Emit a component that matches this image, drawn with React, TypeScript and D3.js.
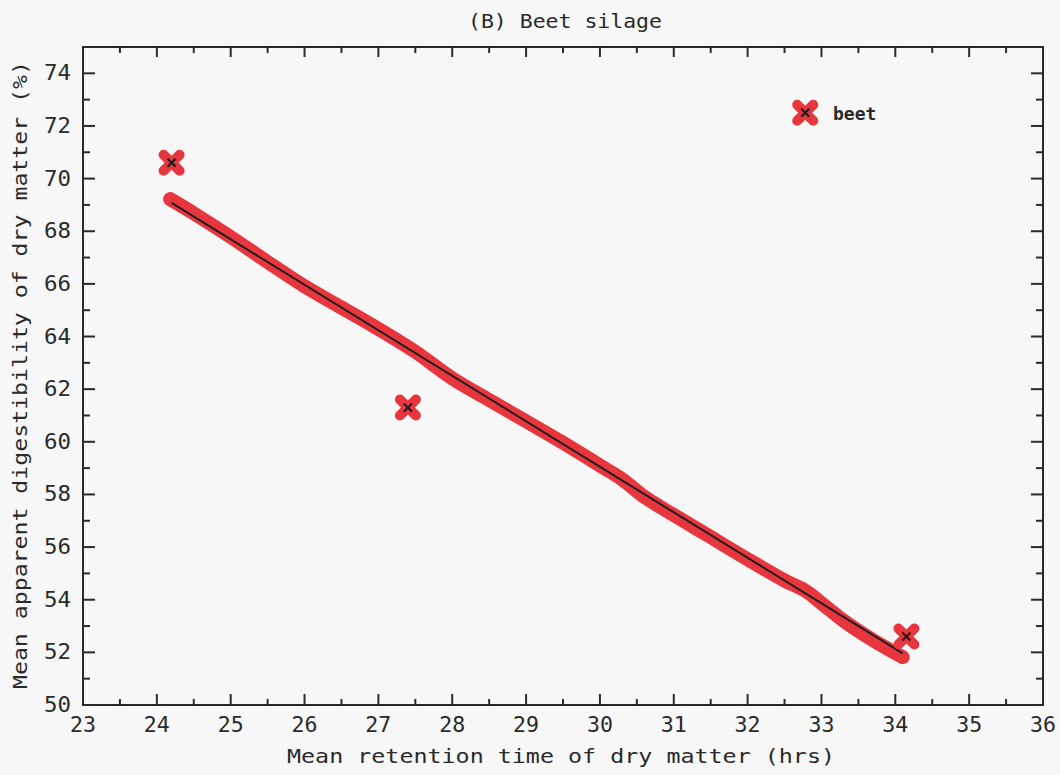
import React from "react";
import * as d3 from "d3";

// Observed means for beet silage
const retentionHrs = [24.2, 27.4, 34.15];
const digestibilityPct = [70.6, 61.3, 52.6];

// Smoothed trace (red band) through the response
const smoothX = [24.18, 24.5, 25.0, 25.5, 26.0, 26.5, 27.0, 27.5, 28.0, 28.5, 29.0, 29.5, 30.0, 30.3, 30.6, 31.0, 31.5, 32.0, 32.5, 32.8, 33.0, 33.3, 33.7, 34.1];
const smoothY = [69.22, 68.68, 67.78, 66.83, 65.91, 65.1, 64.29, 63.42, 62.41, 61.59, 60.78, 59.96, 59.1, 58.58, 57.91, 57.22, 56.38, 55.54, 54.73, 54.31, 53.87, 53.2, 52.46, 51.82];

const xTicks = d3.range(23, 37, 1);
const xMinor = d3.range(23.5, 36, 1);
const yTicks = d3.range(50, 76, 2);
const yMinor = d3.range(51, 76, 2);

const W = 1060;
const H = 775;
const left = 83;
const right = 1043;
const top = 47;
const bottom = 705;

const RED = "#e8363f";
const INK = "#2a2a2a";
const FONT = "'DejaVu Sans Mono', monospace";

function Cross({ cx, cy }: { cx: number; cy: number }) {
  const r = 8;
  const s = 4;
  return (
    <g>
      <path
        d={`M${cx - r},${cy - r}L${cx + r},${cy + r}M${cx - r},${cy + r}L${cx + r},${cy - r}`}
        stroke={RED}
        strokeWidth={10}
        strokeLinecap="round"
        fill="none"
      />
      <path
        d={`M${cx - s},${cy - s}L${cx + s},${cy + s}M${cx - s},${cy + s}L${cx + s},${cy - s}`}
        stroke="#1a1a1a"
        strokeWidth={2}
        fill="none"
      />
    </g>
  );
}

export default function App() {
  const x = d3.scaleLinear().domain([23, 36]).range([left, right]);
  const y = d3.scaleLinear().domain([50, 75]).range([bottom, top]);

  // least-squares fit of the observed means
  const mx = d3.mean(retentionHrs)!;
  const my = d3.mean(digestibilityPct)!;
  const sxy = d3.sum(retentionHrs, (v, i) => (v - mx) * (digestibilityPct[i] - my));
  const sxx = d3.sum(retentionHrs, (v) => (v - mx) * (v - mx));
  const slope = sxy / sxx;
  const fit = (v: number) => my + slope * (v - mx);
  const fitX = [d3.min(retentionHrs)!, d3.max(retentionHrs)! - 0.05];

  const smoothLine = d3
    .line<number>()
    .x((d) => x(d))
    .y((_, i) => y(smoothY[i]))
    .curve(d3.curveCatmullRom.alpha(0.5));

  const fitLine = d3
    .line<number>()
    .x((d) => x(d))
    .y((d) => y(fit(d)));

  return (
    <svg width={W} height={H} style={{ position: "absolute", left: 0, top: 0, background: "#f7f7f7" }}>
      <rect x={0} y={0} width={W} height={H} fill="#f7f7f7" />

      <text x={565} y={28} textAnchor="middle" fontFamily={FONT} fontSize={20} fill={INK} textLength={194} lengthAdjust="spacingAndGlyphs">
        (B) Beet silage
      </text>

      {/* frame */}
      <rect x={left} y={top} width={right - left} height={bottom - top} fill="none" stroke={INK} strokeWidth={2} />

      {/* x ticks, bottom and top, pointing inward */}
      {xTicks.map((t) => (
        <g key={"xt" + t}>
          <line x1={x(t)} x2={x(t)} y1={bottom} y2={bottom - 11} stroke={INK} strokeWidth={2} />
          <line x1={x(t)} x2={x(t)} y1={top} y2={top + 10} stroke={INK} strokeWidth={2} />
          <text x={x(t)} y={732} textAnchor="middle" fontFamily={FONT} fontSize={21} fill={INK} textLength={26} lengthAdjust="spacingAndGlyphs">
            {t}
          </text>
        </g>
      ))}
      {xMinor.map((t) => (
        <g key={"xm" + t}>
          <line x1={x(t)} x2={x(t)} y1={bottom} y2={bottom - 6} stroke={INK} strokeWidth={2} />
          <line x1={x(t)} x2={x(t)} y1={top} y2={top + 6} stroke={INK} strokeWidth={2} />
        </g>
      ))}

      {/* y ticks, left and right */}
      {yTicks.map((t) => (
        <g key={"yt" + t}>
          <line x1={left} x2={left + 12} y1={y(t)} y2={y(t)} stroke={INK} strokeWidth={2} />
          <line x1={right} x2={right - 12} y1={y(t)} y2={y(t)} stroke={INK} strokeWidth={2} />
          <text x={71} y={y(t) + 7} textAnchor="end" fontFamily={FONT} fontSize={21} fill={INK} textLength={27} lengthAdjust="spacingAndGlyphs">
            {t}
          </text>
        </g>
      ))}
      {yMinor.map((t) => (
        <g key={"ym" + t}>
          <line x1={left} x2={left + 7} y1={y(t)} y2={y(t)} stroke={INK} strokeWidth={2} />
          <line x1={right} x2={right - 7} y1={y(t)} y2={y(t)} stroke={INK} strokeWidth={2} />
        </g>
      ))}

      <text x={561} y={763} textAnchor="middle" fontFamily={FONT} fontSize={20} fill={INK} textLength={548} lengthAdjust="spacingAndGlyphs">
        Mean retention time of dry matter (hrs)
      </text>
      <text
        transform={`translate(27,${375}) rotate(-90)`}
        textAnchor="middle"
        fontFamily={FONT}
        fontSize={20}
        fill={INK}
        textLength={628}
        lengthAdjust="spacingAndGlyphs"
      >
        Mean apparent digestibility of dry matter (%)
      </text>

      {/* smoothed trace */}
      <path d={smoothLine(smoothX) || ""} fill="none" stroke={RED} strokeWidth={14} strokeLinecap="round" strokeLinejoin="round" />
      {/* fitted line */}
      <path d={fitLine(fitX) || ""} fill="none" stroke="#1e1e1e" strokeWidth={2} />

      {retentionHrs.map((v, i) => (
        <Cross key={"pt" + i} cx={x(v)} cy={y(digestibilityPct[i])} />
      ))}

      {/* legend */}
      <Cross cx={x(32.78)} cy={y(72.5)} />
      <text x={833} y={120} fontFamily={FONT} fontSize={18} fontWeight="bold" fill={INK}>
        beet
      </text>
    </svg>
  );
}
